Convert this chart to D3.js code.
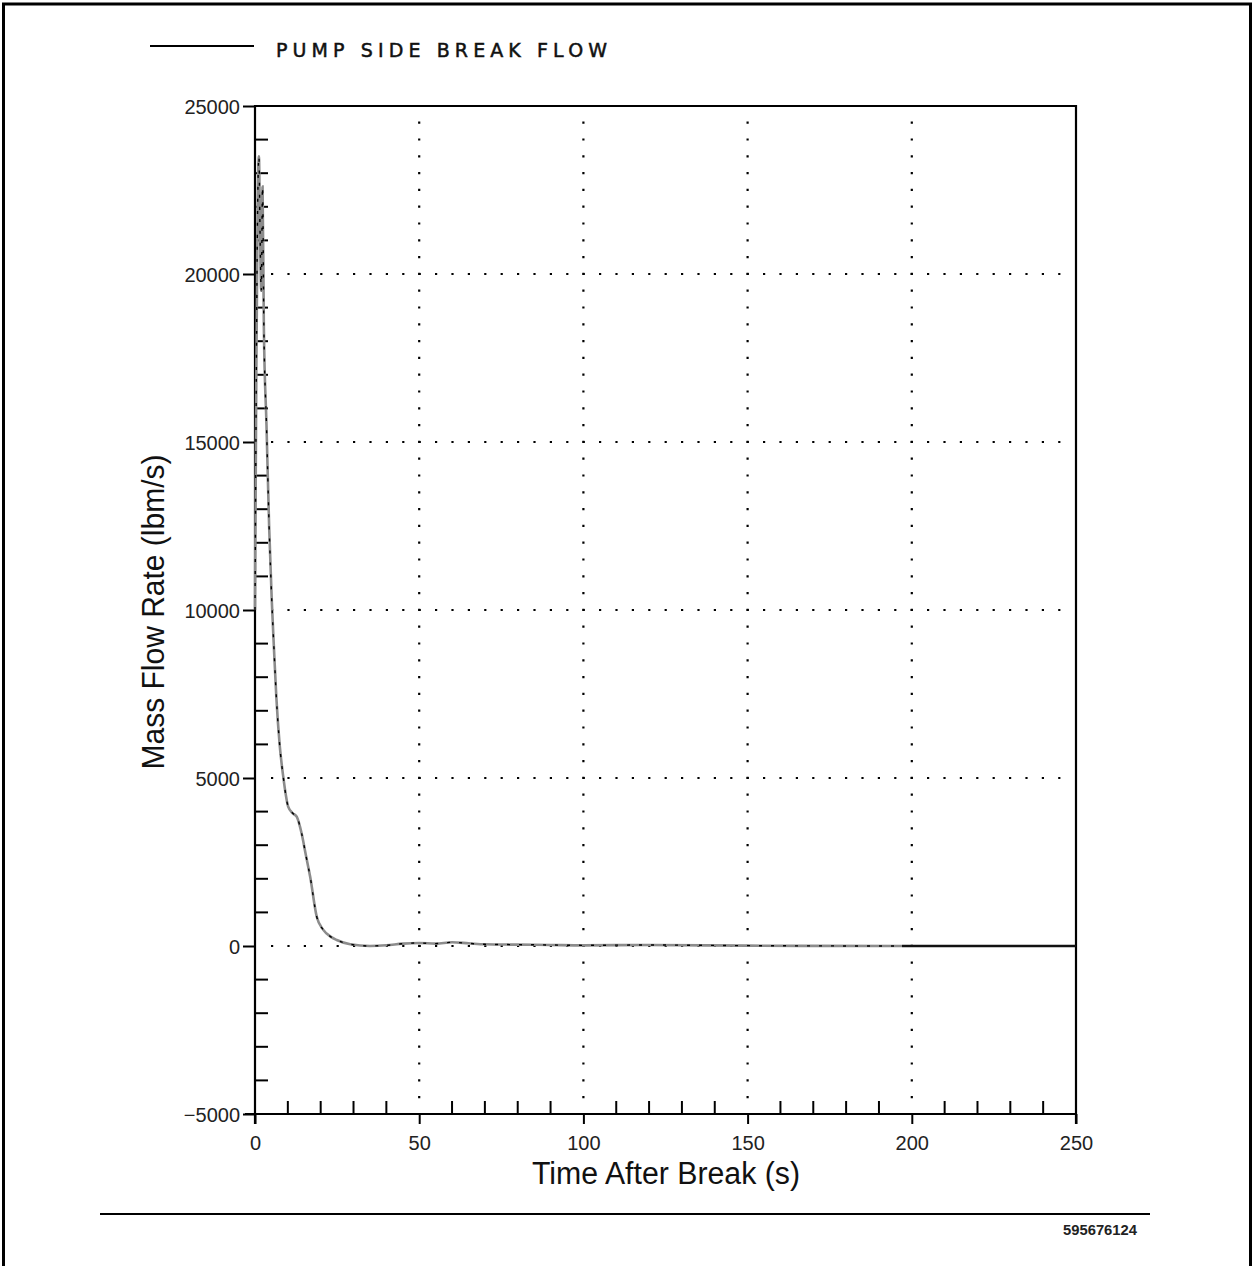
<!DOCTYPE html>
<html>
<head>
<meta charset="utf-8">
<script src="https://cdn.jsdelivr.net/npm/d3@7"></script>
<style>
  html, body { margin: 0; padding: 0; background: #fff; }
  svg { display: block; }
</style>
</head>
<body>
<svg id="chart" width="1254" height="1266"></svg>
<script>
// ---- data ----
const seriesName = "PUMP SIDE BREAK FLOW";
const timeS = [0, 0.4, 0.8, 1.2, 1.5, 1.9, 2.3, 2.7, 3.5, 4.3, 5.1, 5.8, 6.5, 7.5, 8.6, 10.1, 11.5, 12.7, 14.2, 15.5, 16.8, 18.8, 20.8, 23, 24.9, 29, 35, 40, 45, 50, 55, 60, 65, 70, 80, 90, 100, 120, 150, 197, 220, 250];
const flowLbmS = [10000, 17000, 22000, 23500, 21500, 19500, 22600, 18400, 15500, 12500, 10300, 8800, 7400, 6000, 5040, 4150, 3950, 3850, 3350, 2700, 2060, 870, 480, 280, 180, 50, 0, 20, 70, 90, 70, 110, 80, 50, 40, 30, 20, 30, 10, 0, 0, 0];
const xMajorTicks = [0, 50, 100, 150, 200, 250];
const yMajorTicks = [-5000, 0, 5000, 10000, 15000, 20000, 25000];
const xGrid = [50, 100, 150, 200];
const yGrid = [0, 5000, 10000, 15000, 20000];
const xLabel = "Time After Break (s)";
const yLabel = "Mass Flow Rate (lbm/s)";
const figId = "595676124";

// ---- layout ----
const svg = d3.select("#chart");
const L = 255, R = 1076, T = 106, B = 1114;
const x = d3.scaleLinear().domain([0, 250]).range([L, R]);
const y = d3.scaleLinear().domain([-5000, 25000]).range([B, T]);
const data = timeS.map((t, i) => ({ t, v: flowLbmS[i] }));

// outer frame
svg.append("rect").attr("x", 3.5).attr("y", 4).attr("width", 1247).attr("height", 1300)
  .attr("fill", "none").attr("stroke", "#000").attr("stroke-width", 3);

// grid (dotted)
const gGrid = svg.append("g").attr("stroke", "#000").attr("stroke-width", 2.2);
yGrid.forEach(v => {
  gGrid.append("line").attr("x1", 271).attr("x2", 1064).attr("y1", y(v)).attr("y2", y(v))
    .attr("stroke-dasharray", "2.2,14.2");
});
xGrid.forEach(t => {
  gGrid.append("line").attr("x1", x(t)).attr("x2", x(t)).attr("y1", 121.6).attr("y2", 1100)
    .attr("stroke-dasharray", "2.2,14.6");
});

// minor ticks
const minorY = d3.range(-5000, 25001, 1000).filter(v => v % 5000 !== 0);
svg.append("g").selectAll("line").data(minorY).join("line")
  .attr("x1", L).attr("x2", L + 13).attr("y1", d => y(d)).attr("y2", d => y(d))
  .attr("stroke", "#000").attr("stroke-width", 2);
const minorX = d3.range(0, 251, 10).filter(t => t % 50 !== 0);
svg.append("g").selectAll("line").data(minorX).join("line")
  .attr("x1", d => x(d)).attr("x2", d => x(d)).attr("y1", B).attr("y2", B - 13)
  .attr("stroke", "#000").attr("stroke-width", 2);

// axes
const yAxis = d3.axisLeft(y).tickValues(yMajorTicks).tickSize(12).tickPadding(3).tickFormat(d3.format("d"));
const gy = svg.append("g").attr("transform", `translate(${L},0)`).call(yAxis);
const xAxis = d3.axisBottom(x).tickValues(xMajorTicks).tickSize(10).tickPadding(12).tickFormat(d3.format("d"));
const gx = svg.append("g").attr("transform", `translate(0,${B})`).call(xAxis);
[gx, gy].forEach(g => {
  g.select(".domain").remove();
  g.selectAll(".tick line").attr("stroke", "#000").attr("stroke-width", 2);
  g.selectAll(".tick text").attr("fill", "#222").attr("font-family", "Liberation Sans, Arial, sans-serif").attr("font-size", 20);
});
gy.selectAll(".tick text").attr("dy", "0.36em");

// plot frame
svg.append("path")
  .attr("d", `M${L},${B + 10}V${T}H${R}V${B + 10}M${L - 10},${B}H${R}`)
  .attr("fill", "none").attr("stroke", "#000").attr("stroke-width", 2.2);

// curve
const line = d3.line().x(d => x(d.t)).y(d => y(d.v)).curve(d3.curveMonotoneX);
const early = data.filter(d => d.t <= 197);
const late = data.filter(d => d.t >= 197);
svg.append("path").datum(early).attr("d", line).attr("fill", "none")
  .attr("stroke", "#8c8c8c").attr("stroke-width", 2.6);
svg.append("path").datum(early).attr("d", line).attr("fill", "none")
  .attr("stroke", "#000").attr("stroke-width", 1.4).attr("stroke-dasharray", "3,9");
svg.append("path").datum(late).attr("d", line).attr("fill", "none")
  .attr("stroke", "#111").attr("stroke-width", 2.6);

// axis titles
svg.append("text").attr("x", 666).attr("y", 1184).attr("text-anchor", "middle")
  .attr("font-family", "Liberation Sans, Arial, sans-serif").attr("font-size", 31)
  .attr("textLength", 268).attr("lengthAdjust", "spacingAndGlyphs").attr("fill", "#111")
  .text(xLabel);
svg.append("text").attr("transform", "translate(164,612) rotate(-90)").attr("text-anchor", "middle")
  .attr("font-family", "Liberation Sans, Arial, sans-serif").attr("font-size", 31)
  .attr("textLength", 315).attr("lengthAdjust", "spacingAndGlyphs").attr("fill", "#111")
  .text(yLabel);

// legend
svg.append("line").attr("x1", 150).attr("x2", 254).attr("y1", 46).attr("y2", 46)
  .attr("stroke", "#000").attr("stroke-width", 2);
svg.append("text").attr("x", 276).attr("y", 57)
  .attr("font-family", "DejaVu Sans, sans-serif").attr("font-size", 19)
  .attr("stroke", "#111").attr("stroke-width", 0.5)
  .attr("textLength", 331).attr("lengthAdjust", "spacing").attr("fill", "#111")
  .text(seriesName);

// footer
svg.append("line").attr("x1", 100).attr("x2", 1150).attr("y1", 1214).attr("y2", 1214)
  .attr("stroke", "#000").attr("stroke-width", 2);
svg.append("text").attr("x", 1063).attr("y", 1235)
  .attr("font-family", "Liberation Sans, Arial, sans-serif").attr("font-weight", "bold").attr("font-size", 15)
  .attr("textLength", 74).attr("lengthAdjust", "spacingAndGlyphs").attr("fill", "#222")
  .text(figId);
</script>
</body>
</html>
